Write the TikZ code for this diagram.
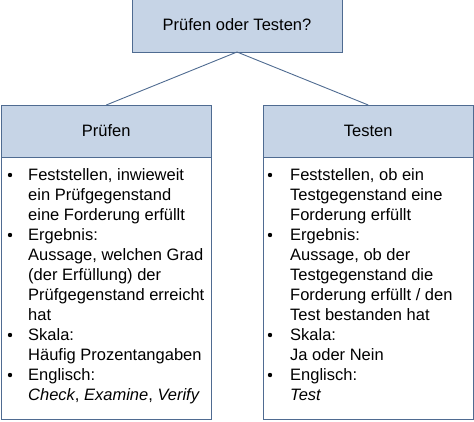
\documentclass[tikz,border=0pt]{standalone}
\usepackage{fontspec}
\setmainfont{Liberation Sans}
\definecolor{hdrfill}{HTML}{C6D4E6}
\definecolor{hdrline}{HTML}{4F6B91}
\begin{document}
\begin{tikzpicture}[x=1pt,y=-1pt,
  box/.style={draw=hdrline, line width=0.9pt, inner sep=0pt, outer sep=0pt},
  hdr/.style={box, fill=hdrfill, minimum width=210pt, minimum height=52pt, font=\fontsize{16.5}{20}\selectfont},
  bodybox/.style={box, fill=white, minimum width=210pt, minimum height=262pt, anchor=north},
  conn/.style={draw=hdrline, line width=0.9pt},
  itemtext/.style={align=left, inner sep=0pt, anchor=base west, font=\fontsize{16.5}{20}\selectfont},
  bul/.style={circle, fill=black, inner sep=0pt, minimum size=4.4pt}]
\useasboundingbox (0,0) rectangle (474,421);
\node[hdr, minimum height=56pt, text depth=0pt] (top) at (237,24) {\raisebox{-2pt}{Prüfen oder Testen?}};
\node[hdr] (lh) at (106.25,131) {Prüfen};
\node[hdr] (rh) at (368.25,131) {Testen};
\node[bodybox] (lb) at (lh.south) {};
\node[bodybox] (rb) at (rh.south) {};
\draw[conn] (top.south) -- (lh.north);
\draw[conn] (top.south) -- (rh.north);
% left column (node base = baseline of last line)
\node[bul] (lb1) at (10,175) {};
\node[itemtext] (lt1) at (28,220) {Feststellen, inwieweit\\ein Prüfgegenstand\\eine Forderung erfüllt};
\node[bul] (lb2) at (10,235) {};
\node[itemtext] (lt2) at (28,320) {Ergebnis:\\Aussage, welchen Grad\\(der Erfüllung) der\\Prüfgegenstand erreicht\\hat};
\node[bul] (lb3) at (10,335) {};
\node[itemtext] (lt3) at (28,360) {Skala:\\Häufig Prozentangaben};
\node[bul] (lb4) at (10,375) {};
\node[itemtext] (lt4) at (28,400) {Englisch:\\\textit{Check}, \textit{Examine}, \textit{Verify}};
% right column
\node[bul] (rb1) at (270,175) {};
\node[itemtext] (rt1) at (290,220) {Feststellen, ob ein\\Testgegenstand eine\\Forderung erfüllt};
\node[bul] (rb2) at (270,235) {};
\node[itemtext] (rt2) at (290,320) {Ergebnis:\\Aussage, ob der\\Testgegenstand die\\Forderung erfüllt / den\\Test bestanden hat};
\node[bul] (rb3) at (270,335) {};
\node[itemtext] (rt3) at (290,360) {Skala:\\Ja oder Nein};
\node[bul] (rb4) at (270,375) {};
\node[itemtext] (rt4) at (290,400) {Englisch:\\\textit{Test}};
\end{tikzpicture}
\end{document}
